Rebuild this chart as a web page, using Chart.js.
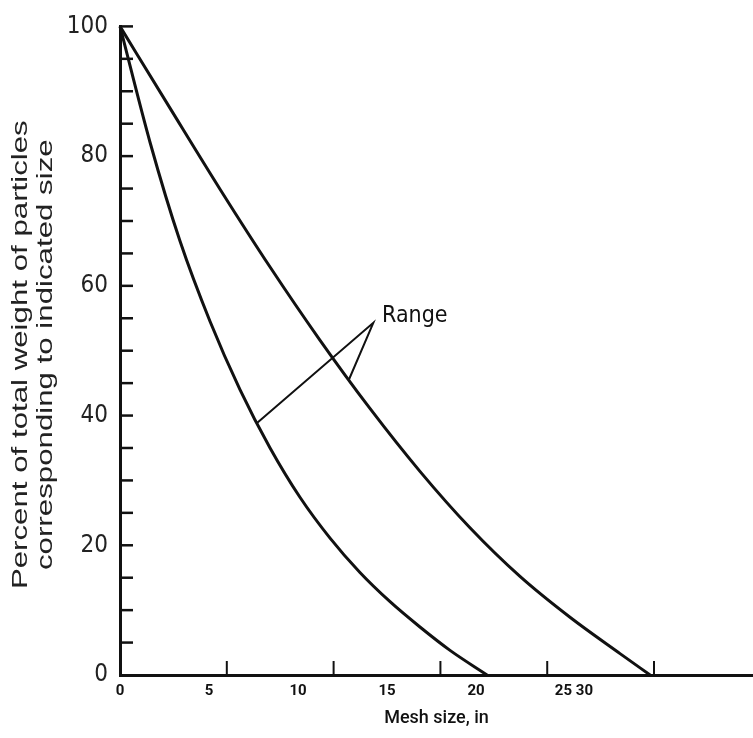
<!DOCTYPE html>
<html>
<head>
<meta charset="utf-8">
<script src="https://cdn.jsdelivr.net/npm/chart.js@4.4.1/dist/chart.umd.min.js"></script>
<style>
    body { margin: 0; background: #fff; }
    #wrap { width: 753px; height: 738px; }
</style>
</head>
<body>
<div id="wrap"><canvas id="mesh_chart" width="753" height="738"></canvas></div>
<script>
// Curve readings (mesh size, percent)
const lowerX = [0, 1.69, 3.37, 5.06, 6.74, 8.43, 10.11, 11.80, 13.48, 15.17, 16.85, 18.54, 20.62];
const lowerY = [100, 82.1, 66.9, 54.5, 44.0, 35.0, 27.4, 21.1, 15.8, 11.3, 7.4, 3.8, 0];
const upperX = [0, 2.81, 5.62, 8.43, 11.24, 14.04, 16.85, 19.66, 22.47, 25.28, 28.09, 29.78];
const upperY = [100, 87.4, 74.9, 62.9, 51.6, 41.1, 31.4, 22.7, 15.2, 8.9, 3.3, 0];

// "Range" pointer: lower curve -> apex -> upper curve
const pointerX = [7.68, 14.23, 12.87];
const pointerY = [38.8, 54.3, 45.6];
const rangeLabel = 'Range';
const rangeLabelAt = [14.72, 54.5];

// Axis ticks and titles
const yTickLabels = [0, 20, 40, 60, 80, 100];
const yTickMarks = [5, 10, 15, 20, 25, 30, 35, 40, 45, 50, 55, 60, 65, 70, 75, 80, 85, 90, 95, 100];
const xTickMarks = [6, 12, 18, 24, 30];
const xLabelPos = [0, 5, 10, 15, 20, 25.5];
const xTickLabels = ['0', '5', '10', '15', '20', '25 30'];
const yTitleLines = ['Percent of total weight of particles', 'corresponding to indicated size'];

const narrow = "'Liberation Sans Narrow', 'DejaVu Sans Condensed', 'Liberation Sans', Arial, sans-serif";

function toPoints(xs, ys) {
    return xs.map((v, i) => ({ x: v, y: ys[i] }));
}

// Short tick marks pointing into the plot, plus the Range label
const innerTicks = {
    id: 'innerTicks',
    afterDatasetsDraw(chart) {
        const { ctx, scales: { x, y } } = chart;
        ctx.save();
        ctx.strokeStyle = '#111';
        ctx.lineCap = 'butt';

        ctx.lineWidth = 2.5;
        const x0 = x.getPixelForValue(0);
        yTickMarks.forEach(v => {
            const py = y.getPixelForValue(v);
            ctx.beginPath();
            ctx.moveTo(x0, py);
            ctx.lineTo(x0 + 13, py);
            ctx.stroke();
        });

        ctx.lineWidth = 2;
        const y0 = y.getPixelForValue(0);
        xTickMarks.forEach(v => {
            const px = x.getPixelForValue(v);
            ctx.beginPath();
            ctx.moveTo(px, y0);
            ctx.lineTo(px, y0 - 14);
            ctx.stroke();
        });

        ctx.fillStyle = '#111';
        ctx.font = '23px ' + narrow;
        ctx.textAlign = 'left';
        ctx.textBaseline = 'alphabetic';
        ctx.fillText(rangeLabel, x.getPixelForValue(rangeLabelAt[0]), y.getPixelForValue(rangeLabelAt[1]));
        ctx.restore();
    }
};

// Y title: two rotated lines, stretched along the axis like the scan
const yTitle = {
    id: 'yTitle',
    afterDraw(chart) {
        const { ctx, chartArea } = chart;
        const cy = (chartArea.top + chartArea.bottom) / 2 + 4;
        ctx.save();
        ctx.fillStyle = '#222';
        ctx.font = "22px 'Liberation Sans', Arial, sans-serif";
        ctx.textAlign = 'center';
        ctx.textBaseline = 'middle';
        yTitleLines.forEach((line, i) => {
            ctx.save();
            ctx.translate(21 + i * 25, cy);
            ctx.rotate(-Math.PI / 2);
            ctx.scale(1.42, 1);
            ctx.fillText(line, 0, 0);
            ctx.restore();
        });
        ctx.restore();
    }
};

new Chart(document.getElementById('mesh_chart'), {
    type: 'line',
    data: {
        datasets: [{
            data: toPoints(lowerX, lowerY),
            borderColor: '#111',
            borderWidth: 3,
            cubicInterpolationMode: 'monotone',
            pointRadius: 0,
            clip: false
        }, {
            data: toPoints(upperX, upperY),
            borderColor: '#111',
            borderWidth: 3,
            cubicInterpolationMode: 'monotone',
            pointRadius: 0,
            clip: false
        }, {
            data: toPoints(pointerX, pointerY),
            borderColor: '#111',
            borderWidth: 2,
            tension: 0,
            pointRadius: 0
        }]
    },
    options: {
        responsive: false,
        animation: false,
        layout: {
            padding: { top: 22, right: 0, bottom: 0, left: 0 }
        },
        plugins: {
            legend: { display: false },
            tooltip: { enabled: false }
        },
        scales: {
            x: {
                type: 'linear',
                min: 0,
                max: 35.56,
                afterBuildTicks: function(scale) {
                    scale.ticks = xLabelPos.map(v => ({ value: v }));
                },
                afterFit: function(scale) {
                    scale.height = 63;
                },
                grid: { drawOnChartArea: false, drawTicks: false },
                border: { color: '#111', width: 3 },
                ticks: {
                    autoSkip: false,
                    maxRotation: 0,
                    padding: 7,
                    color: '#111',
                    font: { family: 'Roboto', size: 15, weight: 'bold' },
                    callback: function(value, index) {
                        return xTickLabels[index];
                    }
                },
                title: {
                    display: true,
                    text: 'Mesh size, in',
                    color: '#111',
                    font: { family: 'Roboto', size: 18, weight: '500' },
                    padding: { top: 0, bottom: 9 }
                }
            },
            y: {
                min: 0,
                max: 100,
                afterBuildTicks: function(scale) {
                    scale.ticks = yTickLabels.map(v => ({ value: v }));
                },
                afterFit: function(scale) {
                    scale.width = 120;
                },
                grid: { drawOnChartArea: false, drawTicks: false },
                border: { color: '#111', width: 3 },
                ticks: {
                    padding: 12,
                    color: '#222',
                    font: { family: narrow, size: 24 }
                },
                title: { display: false }
            }
        }
    },
    plugins: [innerTicks, yTitle]
});
</script>
</body>
</html>
